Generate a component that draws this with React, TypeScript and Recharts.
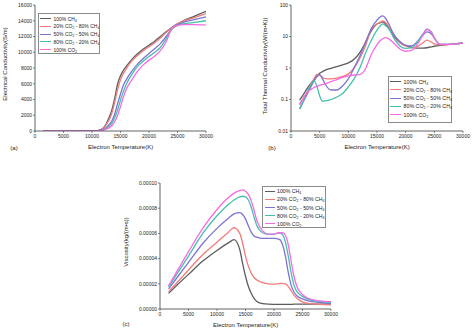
import React from 'react';
import { LineChart, Line, XAxis, YAxis } from 'recharts';

const FONT = '"Liberation Sans", Arial, Helvetica, sans-serif';
const AXIS = '#3c3c3c';
const TXT = '#222';

const seriesKeys = ['ch4', 'co2_20', 'co2_50', 'co2_80', 'co2'];
const seriesNames = ['100% CH4', '20% CO2 - 80% CH4', '50% CO2 - 50% CH4', '80% CO2 - 20% CH4', '100% CO2'];
const seriesColors = ['#5c5c5c', '#f27c7a', '#7d73d3', '#46bfae', '#f86ae3'];

const tempTicks = [0, 5000, 10000, 15000, 20000, 25000, 30000];

// (a) Electrical conductivity (S/m)
const condTemp = [1500, 9000, 10000, 11000, 12000, 12500, 13000, 13500, 14000, 14500, 15000, 15500, 16000, 17000, 18000, 19000, 20000, 21000, 22000, 23000, 24000, 25000, 26000, 28000, 30000];
const condCH4 = [0, 0, 10, 60, 400, 900, 1700, 2700, 4200, 6000, 7000, 7700, 8200, 9100, 9800, 10400, 10900, 11400, 12000, 12600, 13150, 13600, 14000, 14600, 15200];
const condCO2_20 = [0, 0, 10, 60, 350, 800, 1400, 2300, 3700, 5300, 6500, 7300, 7900, 8900, 9600, 10200, 10700, 11200, 11800, 12500, 13100, 13600, 13950, 14400, 14900];
const condCO2_50 = [0, 0, 5, 40, 200, 450, 800, 1300, 2200, 3500, 4700, 5800, 6500, 7600, 8500, 9200, 9850, 10450, 11100, 12000, 13000, 13500, 13800, 14150, 14500];
const condCO2_80 = [0, 0, 5, 30, 150, 350, 600, 1000, 1700, 2700, 3900, 5000, 5900, 7200, 8200, 8900, 9450, 10000, 10600, 11700, 12900, 13400, 13600, 13800, 14000];
const condCO2 = [0, 0, 5, 20, 100, 250, 400, 700, 1200, 2000, 3100, 4300, 5300, 6500, 7600, 8400, 9000, 9500, 10200, 11300, 13000, 13400, 13500, 13500, 13450];
const condTicks = [0, 2000, 4000, 6000, 8000, 10000, 12000, 14000, 16000];

// (b) Total thermal conductivity (W/(m K)), log scale
const thermTemp = [1500, 2000, 3000, 3500, 4000, 4500, 5000, 5500, 6000, 7000, 8000, 9000, 10000, 11000, 12000, 13000, 14000, 15000, 15500, 16000, 16500, 17000, 18000, 19000, 20000, 21000, 22000, 23000, 23700, 24500, 25000, 26000, 28000, 30000];
const thermCH4 = [0.095, 0.13, 0.25, 0.33, 0.43, 0.55, 0.68, 0.77, 0.86, 0.98, 1.1, 1.25, 1.45, 1.9, 3.1, 6.5, 15, 25, 27, 29, 25, 19, 10, 6.3, 5.2, 4.6, 4.3, 4.3, 4.4, 4.7, 4.9, 5.2, 5.7, 6.3];
const thermCO2_20 = [0.067, 0.1, 0.2, 0.3, 0.45, 0.63, 0.6, 0.5, 0.46, 0.45, 0.48, 0.54, 0.65, 1.0, 2.0, 5.0, 17, 25, 28, 31, 28, 21, 11, 6.3, 5.0, 4.4, 4.8, 6.3, 7.7, 6.6, 5.8, 5.4, 5.7, 6.3];
const thermCO2_50 = [0.05, 0.075, 0.17, 0.26, 0.38, 0.52, 0.62, 0.45, 0.3, 0.2, 0.2, 0.27, 0.45, 1.0, 2.4, 6.5, 18, 33, 41, 45, 38, 26, 11, 7, 5.2, 5.0, 6.8, 11, 14, 12, 9, 5.6, 5.6, 6.3];
const thermCO2_80 = [0.05, 0.08, 0.2, 0.3, 0.4, 0.27, 0.13, 0.088, 0.09, 0.1, 0.12, 0.155, 0.25, 0.45, 1.0, 3.0, 7.5, 16, 21, 25, 22, 18, 8.5, 5.0, 4.2, 4.4, 6.5, 12, 17, 14, 9, 5.6, 5.6, 6.3];
const thermCO2 = [0.072, 0.1, 0.18, 0.21, 0.24, 0.26, 0.28, 0.3, 0.32, 0.37, 0.43, 0.5, 0.56, 0.6, 0.62, 0.95, 2.7, 5.5, 7.2, 8.5, 9.2, 8.6, 6.0, 4.0, 3.4, 3.6, 5.5, 11, 17, 13, 9, 5.6, 5.6, 6.3];
const thermTicks = [0.01, 0.1, 1, 10, 100];

// (c) Viscosity (kg/(m s))
const visTemp = [1500, 3000, 5000, 7500, 10000, 12000, 13000, 14000, 14500, 15000, 15500, 16000, 16500, 17000, 18000, 19000, 20000, 21000, 21500, 22000, 22500, 23000, 23500, 24000, 25000, 26000, 28000, 30000];
const visCH4 = [12.4e-6, 19e-6, 27.5e-6, 38e-6, 46.5e-6, 52.5e-6, 55e-6, 47e-6, 36e-6, 26e-6, 18e-6, 12.5e-6, 8.5e-6, 6e-6, 4.2e-6, 3.8e-6, 3.7e-6, 3.7e-6, 3.7e-6, 3.7e-6, 3.7e-6, 3.7e-6, 3.8e-6, 3.8e-6, 3.8e-6, 3.9e-6, 3.9e-6, 4e-6];
const visCO2_20 = [13.8e-6, 21e-6, 31e-6, 43e-6, 53e-6, 61e-6, 64.5e-6, 60e-6, 52e-6, 42e-6, 34e-6, 28.5e-6, 25e-6, 23e-6, 21e-6, 20e-6, 19.8e-6, 20.2e-6, 20.3e-6, 20e-6, 18e-6, 14.5e-6, 11e-6, 8.5e-6, 5.6e-6, 4.4e-6, 3.7e-6, 3.3e-6];
const visCO2_50 = [16e-6, 25e-6, 37e-6, 52e-6, 64e-6, 72e-6, 75.5e-6, 76.5e-6, 75e-6, 71.5e-6, 66e-6, 61e-6, 58e-6, 57e-6, 56e-6, 56e-6, 56e-6, 55e-6, 51e-6, 42e-6, 29e-6, 19e-6, 13.5e-6, 10.5e-6, 8e-6, 6.5e-6, 5.2e-6, 4.3e-6];
const visCO2_80 = [17.5e-6, 28e-6, 42e-6, 60e-6, 74e-6, 83e-6, 86.5e-6, 89e-6, 89.5e-6, 89e-6, 86.5e-6, 81e-6, 73e-6, 66e-6, 60.5e-6, 59.3e-6, 59.5e-6, 60.5e-6, 59e-6, 53e-6, 42e-6, 29e-6, 19e-6, 14e-6, 10e-6, 7.7e-6, 6e-6, 5e-6];
const visCO2 = [18.3e-6, 30e-6, 45.5e-6, 64e-6, 79e-6, 88.5e-6, 92e-6, 94e-6, 94.5e-6, 93.5e-6, 91e-6, 86e-6, 78.5e-6, 70e-6, 62e-6, 59.5e-6, 59.5e-6, 60.5e-6, 60.5e-6, 58.5e-6, 51e-6, 38e-6, 26e-6, 18e-6, 11.5e-6, 8.5e-6, 6.5e-6, 5.8e-6];
const visTicks = [0, 0.00002, 0.00004, 0.00006, 0.00008, 0.0001];

const buildRows = (temps: number[], series: number[][]) =>
  temps.map((t, i) => {
    const row: Record<string, number> = { t };
    seriesKeys.forEach((k, j) => {
      row[k] = series[j][i];
    });
    return row;
  });

const condRows = buildRows(condTemp, [condCH4, condCO2_20, condCO2_50, condCO2_80, condCO2]);
const thermRows = buildRows(thermTemp, [thermCH4, thermCO2_20, thermCO2_50, thermCO2_80, thermCO2]);
const visRows = buildRows(visTemp, [visCH4, visCO2_20, visCO2_50, visCO2_80, visCO2]);

const tickStyle = { fontSize: 5, fill: TXT, fontFamily: FONT };

type PanelProps = {
  rows: Record<string, number>[];
  width: number;
  height: number;
  margin: { top: number; right: number; bottom: number; left: number };
  yAxisWidth: number;
  xAxisHeight: number;
  yTicks: number[];
  yDomain: [number, number];
  yLog?: boolean;
  yFormat: (v: number) => string;
};

function Panel(p: PanelProps) {
  const scale = p.yLog ? 'log' : 'linear';
  return (
    <LineChart width={p.width} height={p.height} data={p.rows} margin={p.margin}>
      <XAxis
        dataKey="t"
        type="number"
        domain={[0, 30000]}
        ticks={tempTicks}
        interval={0}
        allowDataOverflow
        height={p.xAxisHeight}
        tick={tickStyle}
        tickSize={2}
        tickMargin={1}
        axisLine={{ stroke: AXIS, strokeWidth: 0.8 }}
        tickLine={{ stroke: AXIS, strokeWidth: 0.6 }}
      />
      <XAxis
        xAxisId="top"
        orientation="top"
        dataKey="t"
        type="number"
        domain={[0, 30000]}
        ticks={tempTicks}
        interval={0}
        allowDataOverflow
        height={0}
        mirror
        tick={false}
        tickSize={2}
        axisLine={{ stroke: AXIS, strokeWidth: 0.8 }}
        tickLine={{ stroke: AXIS, strokeWidth: 0.6 }}
      />
      <YAxis
        type="number"
        scale={scale}
        domain={p.yDomain}
        ticks={p.yTicks}
        interval={0}
        allowDataOverflow
        width={p.yAxisWidth}
        tickFormatter={p.yFormat}
        tick={tickStyle}
        tickSize={2}
        tickMargin={1}
        axisLine={{ stroke: AXIS, strokeWidth: 0.8 }}
        tickLine={{ stroke: AXIS, strokeWidth: 0.6 }}
      />
      <YAxis
        yAxisId="right"
        orientation="right"
        type="number"
        scale={scale}
        domain={p.yDomain}
        ticks={p.yTicks}
        interval={0}
        allowDataOverflow
        width={0}
        mirror
        tick={false}
        tickSize={2}
        axisLine={{ stroke: AXIS, strokeWidth: 0.8 }}
        tickLine={{ stroke: AXIS, strokeWidth: 0.6 }}
      />
      {seriesKeys.map((k, i) => (
        <Line
          key={k}
          dataKey={k}
          type="monotone"
          stroke={seriesColors[i]}
          strokeWidth={1.3}
          dot={false}
          activeDot={false}
          isAnimationActive={false}
        />
      ))}
    </LineChart>
  );
}

const subStyle: React.CSSProperties = { fontSize: '0.68em', verticalAlign: '-0.25em', lineHeight: 0 };

function Chem({ text }: { text: string }) {
  const parts = text.split(/(CH4|CO2)/);
  return (
    <>
      {parts.map((s, i) => {
        if (s === 'CH4')
          return (
            <React.Fragment key={i}>
              CH<sub style={subStyle}>4</sub>
            </React.Fragment>
          );
        if (s === 'CO2')
          return (
            <React.Fragment key={i}>
              CO<sub style={subStyle}>2</sub>
            </React.Fragment>
          );
        return <React.Fragment key={i}>{s}</React.Fragment>;
      })}
    </>
  );
}

type LegendProps = {
  left: number;
  top: number;
  width: number;
  height: number;
  first: number;
  gap: number;
  lineLeft: number;
  lineLen: number;
  fontSize?: number;
};

function LegendBox(l: LegendProps) {
  return (
    <div
      style={{
        position: 'absolute',
        left: l.left,
        top: l.top,
        width: l.width,
        height: l.height,
        border: '0.7px solid #8a8a8a',
        boxSizing: 'border-box',
        background: '#fff',
        fontFamily: FONT,
        fontSize: l.fontSize ?? 5,
        color: TXT,
      }}
    >
      {seriesNames.map((n, i) => (
        <div
          key={n}
          style={{
            position: 'absolute',
            left: l.lineLeft,
            top: l.first + i * l.gap - 3,
            height: 6,
            display: 'flex',
            alignItems: 'center',
            whiteSpace: 'nowrap',
            lineHeight: '6px',
          }}
        >
          <span
            style={{
              display: 'inline-block',
              width: l.lineLen,
              height: 0,
              borderTop: `1.4px solid ${seriesColors[i]}`,
              marginRight: 2.5,
            }}
          />
          <span>
            <Chem text={n} />
          </span>
        </div>
      ))}
    </div>
  );
}

function Txt({ x, y, text, size = 6, rotate = false }: { x: number; y: number; text: string; size?: number; rotate?: boolean }) {
  return (
    <div
      style={{
        position: 'absolute',
        left: x,
        top: y,
        transform: `translate(-50%, -50%)${rotate ? ' rotate(-90deg)' : ''}`,
        whiteSpace: 'nowrap',
        fontFamily: FONT,
        fontSize: size,
        lineHeight: 1,
        color: TXT,
      }}
    >
      {text}
    </div>
  );
}

export default function App() {
  return (
    <div style={{ position: 'absolute', left: 0, top: 0, width: 475, height: 332, background: '#fff', overflow: 'hidden' }}>
      {/* (a) */}
      <div style={{ position: 'absolute', left: 0, top: 0 }}>
        <Panel
          rows={condRows}
          width={240}
          height={160}
          margin={{ top: 5, right: 34, bottom: 0, left: 0 }}
          yAxisWidth={35}
          xAxisHeight={29}
          yTicks={condTicks}
          yDomain={[0, 16000]}
          yFormat={(v) => String(v)}
        />
      </div>
      <LegendBox left={37.5} top={12.5} width={62} height={41} first={5.2} gap={7.75} lineLeft={1.5} lineLen={11} />
      <Txt x={120.5} y={147} text="Electron Temperature(K)" />
      <Txt x={5} y={64} text="Electrical Conductivity(S/m)" rotate />
      <Txt x={14} y={148} text="(a)" />

      {/* (b) */}
      <div style={{ position: 'absolute', left: 235, top: 0 }}>
        <Panel
          rows={thermRows}
          width={240}
          height={160}
          margin={{ top: 5, right: 12, bottom: 0, left: 0 }}
          yAxisWidth={56}
          xAxisHeight={29}
          yTicks={thermTicks}
          yDomain={[0.01, 100]}
          yLog
          yFormat={(v) => String(v)}
        />
      </div>
      <LegendBox left={388} top={75.5} width={64} height={47} first={5.2} gap={8.25} lineLeft={1} lineLen={11} fontSize={5.3} />
      <Txt x={377} y={147} text="Electron Temperature(K)" />
      <Txt x={264.5} y={66} text="Total Thermal Conductivity(W/(m•K))" rotate />
      <Txt x={272} y={147.5} text="(b)" />

      {/* (c) */}
      <div style={{ position: 'absolute', left: 120, top: 160 }}>
        <Panel
          rows={visRows}
          width={240}
          height={172}
          margin={{ top: 23, right: 29, bottom: 0, left: 0 }}
          yAxisWidth={40}
          xAxisHeight={23}
          yTicks={visTicks}
          yDomain={[0, 0.0001]}
          yFormat={(v) => v.toFixed(5)}
        />
      </div>
      <LegendBox left={262} top={186} width={64} height={42} first={4.3} gap={8.1} lineLeft={1.5} lineLen={10} fontSize={5.2} />
      <Txt x={245.5} y={324.5} text="Electron Temperature(K)" />
      <Txt x={126} y={242} text="Viscosity(kg/(m•s))" rotate />
      <Txt x={126} y={323.5} text="(c)" />
    </div>
  );
}
